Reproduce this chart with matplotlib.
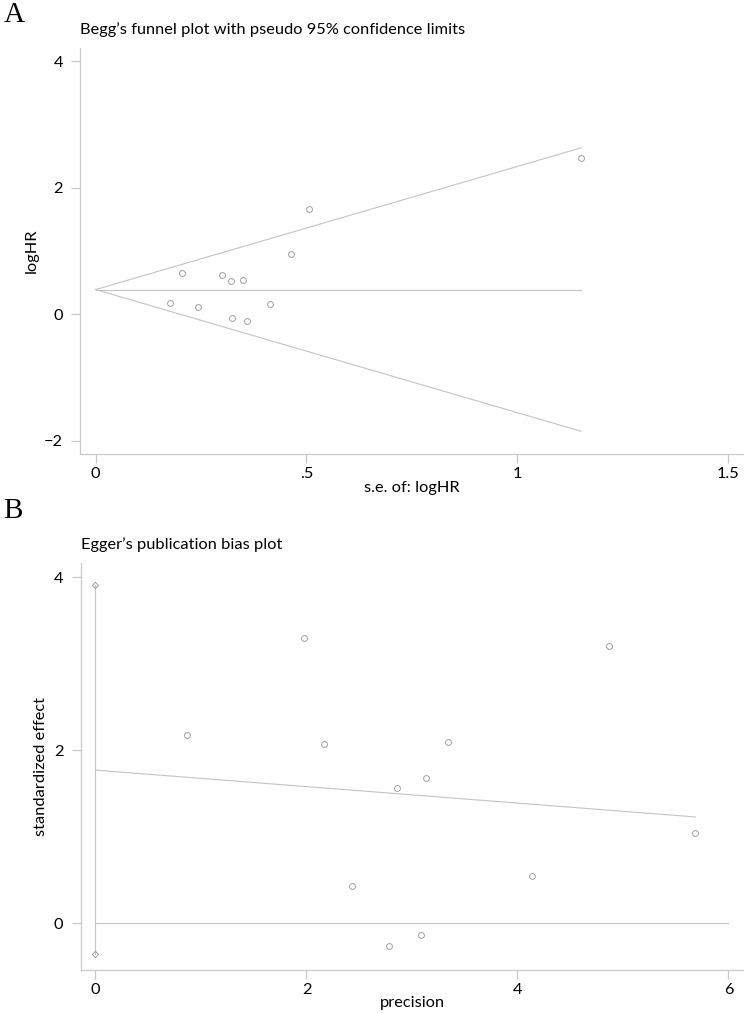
import matplotlib
matplotlib.use("Agg")
import matplotlib.pyplot as plt

plt.rcParams['font.family'] = ['Lato', 'DejaVu Sans']

# Panel A: Begg's funnel plot data
se_logHR = [0.507, 0.463, 0.205, 0.299, 0.320, 0.350, 0.176, 0.242, 0.413, 0.323, 0.359, 1.151]
logHR = [1.661, 0.949, 0.653, 0.622, 0.532, 0.547, 0.179, 0.120, 0.168, -0.054, -0.101, 2.478]
funnel_se = [0.0, 1.151]
funnel_upper = [0.39, 2.63]
funnel_lower = [0.39, -1.85]
funnel_mid = [0.39, 0.39]
a_xticks = [0, 0.5, 1, 1.5]
a_xticklabels = ["0", ".5", "1", "1.5"]
a_yticks = [-2, 0, 2, 4]

# Panel B: Egger's publication bias plot data
precision = [1.978, 2.165, 4.865, 3.338, 3.130, 2.859, 5.685, 4.137, 2.431, 3.090, 2.786, 0.868]
std_effect = [3.295, 2.070, 3.206, 2.100, 1.680, 1.567, 1.040, 0.545, 0.426, -0.138, -0.260, 2.174]
egger_line_x = [0.0, 5.685]
egger_line_y = [1.77, 1.229]
intercept_ci_x = [0.0, 0.0]
intercept_ci_y = [-0.357, 3.905]
zero_line_x = [0.0, 6.0]
zero_line_y = [0.0, 0.0]
b_xticks = [0, 2, 4, 6]
b_yticks = [0, 2, 4]

W, H = 744, 1013
fig = plt.figure(figsize=(W / 100, H / 100), dpi=100)

line_c = '#c4c4c4'
mark_c = '#a0a0a0'
spine_c = '#c8c8c8'
fs = 11.8


def frac(x0, y0, x1, y1):
    return [x0 / W, 1 - y1 / H, (x1 - x0) / W, (y1 - y0) / H]


def style(ax):
    for s in ['top', 'right']:
        ax.spines[s].set_visible(False)
    for s in ['left', 'bottom']:
        ax.spines[s].set_color(spine_c)
        ax.spines[s].set_linewidth(0.9)
    ax.tick_params(axis='both', colors=spine_c, labelcolor='black',
                   length=6.5, width=0.9, labelsize=fs)
    ax.tick_params(axis='y', pad=6)
    ax.tick_params(axis='x', pad=2.5)


# Panel A
axA = fig.add_axes(frac(80.3, 48, 744, 454.3))
style(axA)
axA.plot(funnel_se, funnel_upper, color=line_c, lw=0.8)
axA.plot(funnel_se, funnel_lower, color=line_c, lw=0.8)
axA.plot(funnel_se, funnel_mid, color=line_c, lw=0.8)
axA.plot(se_logHR, logHR, linestyle='none', marker='o', markersize=4.2,
         markerfacecolor='none', markeredgecolor=mark_c, markeredgewidth=0.7)
axA.set_xlim(-0.0365, 1.538)
axA.set_ylim(-2.215, 4.21)
axA.set_xticks(a_xticks)
axA.set_xticklabels(a_xticklabels)
axA.set_yticks(a_yticks)
axA.set_yticklabels(["\u22122", "0", "2", "4"])
axA.set_xlabel("s.e. of: logHR", fontsize=fs, labelpad=0)
axA.set_ylabel("logHR", fontsize=fs, labelpad=4)
axA.set_title("Begg\u2019s funnel plot with pseudo 95% confidence limits",
              fontsize=fs, loc='left', pad=10)

# Panel B
axB = fig.add_axes(frac(80.7, 562.5, 744, 970))
style(axB)
axB.plot(intercept_ci_x, intercept_ci_y, color=line_c, lw=0.8)
axB.plot(intercept_ci_x, intercept_ci_y, linestyle='none', marker='D', markersize=3.2,
         markerfacecolor='none', markeredgecolor=mark_c, markeredgewidth=0.7)
axB.plot(egger_line_x, egger_line_y, color=line_c, lw=0.8)
axB.plot(zero_line_x, zero_line_y, color=line_c, lw=0.8)
axB.plot(precision, std_effect, linestyle='none', marker='o', markersize=4.2,
         markerfacecolor='none', markeredgecolor=mark_c, markeredgewidth=0.7)
axB.set_xlim(-0.14, 6.147)
axB.set_ylim(-0.54, 4.17)
axB.set_xticks(b_xticks)
axB.set_yticks(b_yticks)
axB.set_xlabel("precision", fontsize=fs, labelpad=0)
axB.set_ylabel("standardized effect", fontsize=fs, labelpad=4)
axB.set_title("Egger\u2019s publication bias plot", fontsize=fs, loc='left', pad=10)

# Panel letters
fig.text(4 / W, 1 - 15 / H, "A", family=['Liberation Serif'], fontsize=21,
         ha='left', va='center')
fig.text(3 / W, 1 - 511 / H, "B", family=['Liberation Serif'], fontsize=21,
         ha='left', va='center')

fig.savefig("out.png", dpi=100)
